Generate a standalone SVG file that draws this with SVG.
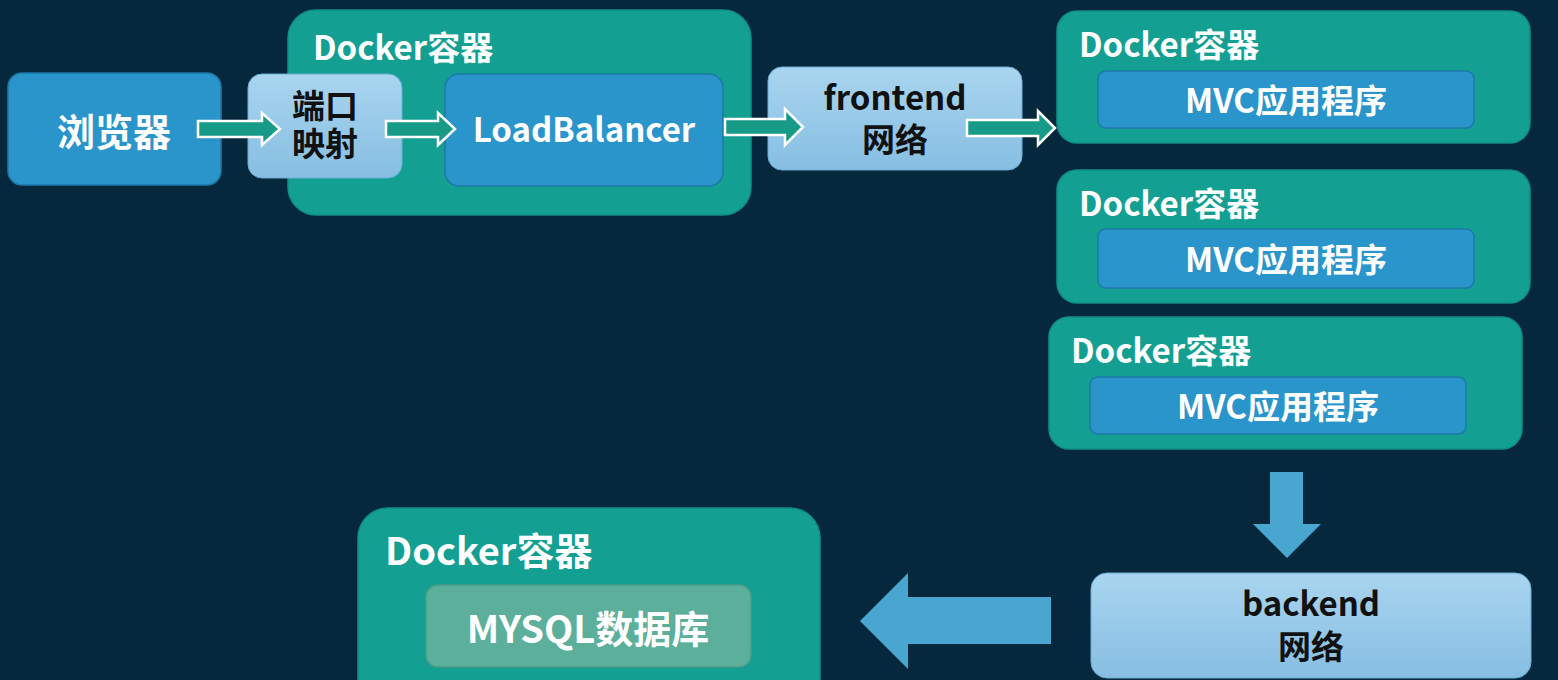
<svg xmlns="http://www.w3.org/2000/svg" width="1558" height="680" viewBox="0 0 1558 680">
<style>
.bg{fill:#06283d}
.dock{fill:#13a093;stroke:#0f8f84;stroke-width:1.5}
.blue{fill:#2a95cb;stroke:#1d78a8;stroke-width:1.5}
.light{fill:url(#lg);stroke:#6aaed6;stroke-width:1}
.db{fill:#5baf9b;stroke:#4c9c88;stroke-width:1.5}
text{font-family:"Noto Sans CJK SC","Noto Sans",sans-serif;font-weight:bold;dominant-baseline:central}
.w{fill:#ffffff}
.k{fill:#111111}
.lbl{font-size:33px}
.big{font-size:38px}
.c{text-anchor:middle}
.ta{fill:#179a88;stroke:#ffffff;stroke-width:2.5;stroke-linejoin:miter}
.ba{fill:#48a6d1}
</style>
<defs>
<linearGradient id="lg" x1="0" y1="0" x2="0" y2="1">
<stop offset="0" stop-color="#a9d5ef"/>
<stop offset="1" stop-color="#86bee2"/>
</linearGradient>
</defs>
<rect class="bg" x="0" y="0" width="1558" height="680"/>

<g id="browser">
<rect class="blue" x="8" y="73" width="213" height="112" rx="14"/>
<text class="w c big" x="114" y="129">浏览器</text>
</g>

<g id="docker-lb">
<rect class="dock" x="288" y="10" width="463" height="205" rx="28"/>
<text class="w lbl" x="313" y="46">Docker容器</text>
</g>

<g id="port-map">
<rect class="light" x="248" y="74" width="154" height="104" rx="14"/>
<text class="k c lbl" x="325" y="104"><tspan x="325" y="104">端口</tspan><tspan x="325" y="142">映射</tspan></text>
</g>

<g id="loadbalancer">
<rect class="blue" x="445" y="74" width="278" height="112" rx="14"/>
<text class="w c lbl" x="584" y="128">LoadBalancer</text>
</g>

<g id="frontend">
<rect class="light" x="768" y="67" width="254" height="103" rx="14"/>
<text class="k c lbl" x="895" y="96"><tspan x="895" y="96">frontend</tspan><tspan x="895" y="138">网络</tspan></text>
</g>

<g id="docker-mvc1">
<rect class="dock" x="1057" y="11" width="473" height="132" rx="20"/>
<text class="w lbl" x="1079" y="43">Docker容器</text>
<rect class="blue" x="1098" y="71" width="376" height="57" rx="8"/>
<text class="w c lbl" x="1286" y="99">MVC应用程序</text>
</g>

<g id="docker-mvc2">
<rect class="dock" x="1057" y="170" width="473" height="133" rx="20"/>
<text class="w lbl" x="1079" y="202">Docker容器</text>
<rect class="blue" x="1098" y="229" width="376" height="59" rx="8"/>
<text class="w c lbl" x="1286" y="258">MVC应用程序</text>
</g>

<g id="docker-mvc3">
<rect class="dock" x="1049" y="317" width="473" height="132" rx="20"/>
<text class="w lbl" x="1071" y="349">Docker容器</text>
<rect class="blue" x="1090" y="377" width="376" height="57" rx="8"/>
<text class="w c lbl" x="1278" y="405">MVC应用程序</text>
</g>

<g id="backend">
<rect class="light" x="1091" y="573" width="440" height="105" rx="16"/>
<text class="k c lbl" x="1311" y="602"><tspan x="1311" y="602">backend</tspan><tspan x="1311" y="645">网络</tspan></text>
</g>

<g id="docker-mysql">
<rect class="dock" x="358" y="508" width="462" height="210" rx="30"/>
<text class="w big" x="385" y="548">Docker容器</text>
<rect class="db" x="426" y="585" width="325" height="82" rx="12"/>
<text class="w c big" x="588" y="626">MYSQL数据库</text>
</g>

<g id="connectors">
<path class="ta" d="M198,121 H262 V113 L280,129 L262,145 V137 H198 Z"/>
<path class="ta" d="M386,121 H438 V113 L455,129 L438,145 V137 H386 Z"/>
<path class="ta" d="M725,119 H785 V109 L803,127 L785,145 V135 H725 Z"/>
<path class="ta" d="M967,120 H1038 V111 L1055,128 L1038,145 V136 H967 Z"/>
<path class="ba" d="M1270,472 H1303 V524 H1321 L1287,558 L1253,524 H1270 Z"/>
<path class="ba" d="M1051,597 V644 H908 V669 L860,621 L908,573 V597 Z"/>
</g>
</svg>
